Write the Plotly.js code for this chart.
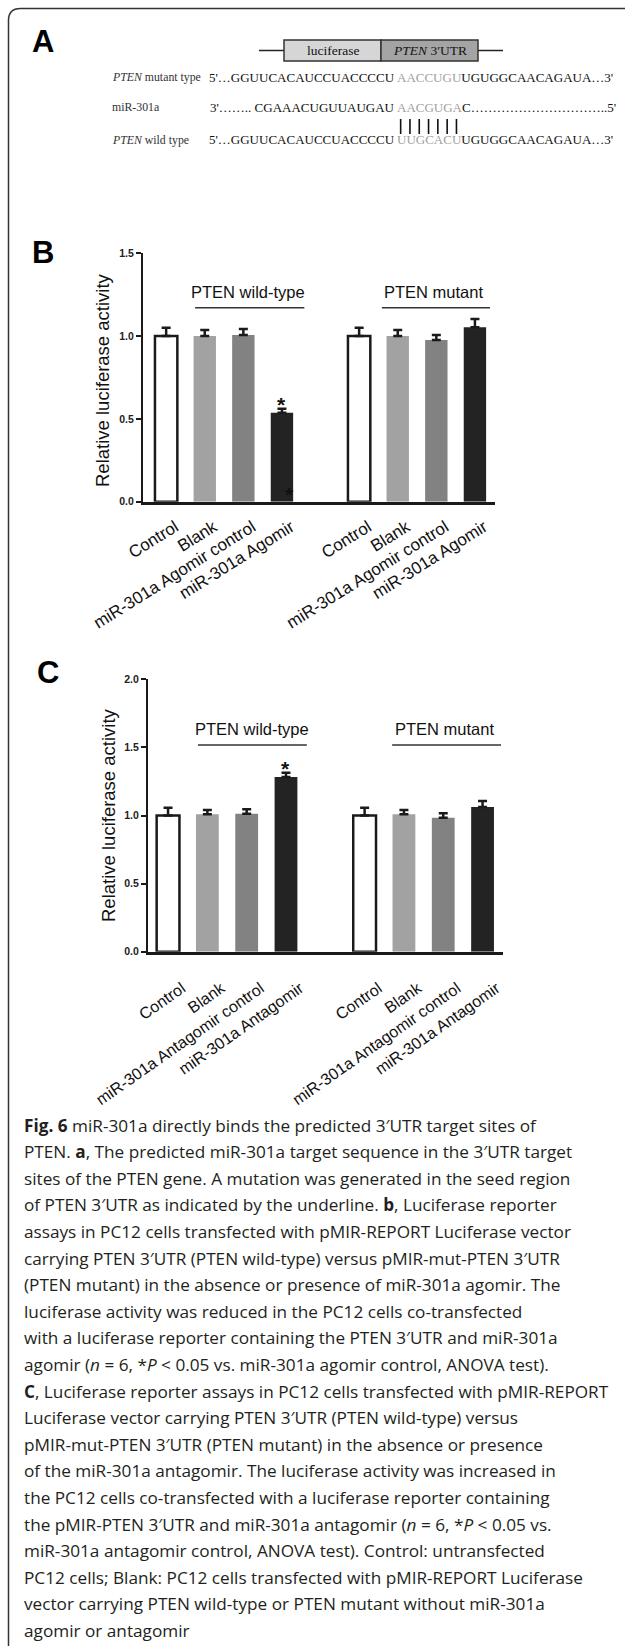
<!DOCTYPE html>
<html>
<head>
<meta charset="utf-8">
<script src="https://cdn.plot.ly/plotly-3.0.1.min.js"></script>
<style>
  html, body { margin: 0; padding: 0; background: #ffffff; }
  #fig { width: 625px; height: 1646px; }
</style>
</head>
<body>
<div id="fig"></div>
<script>
// ---------------- data ----------------
const groupNames = ['PTEN wild-type', 'PTEN mutant'];
const catsB = ['Control', 'Blank', 'miR-301a Agomir control', 'miR-301a Agomir'];
const catsC = ['Control', 'Blank', 'miR-301a Antagomir control', 'miR-301a Antagomir'];

const wildB    = [1.00, 1.00, 1.007, 0.537];
const wildBErr = [0.051, 0.037, 0.036, 0.025];
const mutB     = [1.00, 1.00, 0.976, 1.053];
const mutBErr  = [0.051, 0.037, 0.031, 0.050];

const wildC    = [1.00, 1.009, 1.013, 1.283];
const wildCErr = [0.057, 0.031, 0.032, 0.031];
const mutC     = [1.00, 1.009, 0.984, 1.062];
const mutCErr  = [0.057, 0.031, 0.032, 0.044];

const yTicksB = [0, 0.5, 1.0, 1.5];
const yTicksC = [0, 0.5, 1.0, 1.5, 2.0];

const barColors = ['#ffffff', '#a2a2a2', '#828282', '#232323'];

const seqMutant = ["5'…GGUUCACAUCCUACCCCU", 'AACCUGU', "UGUGGCAACAGAUA…3'"];
const seqMir    = ["3'…….. CGAAACUGUUAUGAU", 'AACGUGA', "C…………………………..5'"];
const seqWild   = ["5'…GGUUCACAUCCUACCCCU", 'UUGCACU', "UGUGGCAACAGAUA…3'"];

const captionLines = [
  '<b>Fig. 6</b> miR-301a directly binds the predicted 3′UTR target sites of',
  'PTEN. <b>a</b>, The predicted miR-301a target sequence in the 3′UTR target',
  'sites of the PTEN gene. A mutation was generated in the seed region',
  'of PTEN 3′UTR as indicated by the underline. <b>b</b>, Luciferase reporter',
  'assays in PC12 cells transfected with pMIR-REPORT Luciferase vector',
  'carrying PTEN 3′UTR (PTEN wild-type) versus pMIR-mut-PTEN 3′UTR',
  '(PTEN mutant) in the absence or presence of miR-301a agomir. The',
  'luciferase activity was reduced in the PC12 cells co-transfected',
  'with a luciferase reporter containing the PTEN 3′UTR and miR-301a',
  'agomir (<i>n</i> = 6, *<i>P</i> < 0.05 vs. miR-301a agomir control, ANOVA test).',
  '<b>C</b>, Luciferase reporter assays in PC12 cells transfected with pMIR-REPORT',
  'Luciferase vector carrying PTEN 3′UTR (PTEN wild-type) versus',
  'pMIR-mut-PTEN 3′UTR (PTEN mutant) in the absence or presence',
  'of the miR-301a antagomir. The luciferase activity was increased in',
  'the PC12 cells co-transfected with a luciferase reporter containing',
  'the pMIR-PTEN 3′UTR and miR-301a antagomir (<i>n</i> = 6, *<i>P</i> < 0.05 vs.',
  'miR-301a antagomir control, ANOVA test). Control: untransfected',
  'PC12 cells; Blank: PC12 cells transfected with pMIR-REPORT Luciferase',
  'vector carrying PTEN wild-type or PTEN mutant without miR-301a',
  'agomir or antagomir'
];

// ---------------- helpers ----------------
const W = 625, H = 1646;
const px = x => x / W;
const py = y => 1 - y / H;
const GAP = 5;               // slot offset of second group
const pos = (g, i) => g * GAP + i;

const SANS = 'Liberation Sans, Arial, sans-serif';
const SERIF = 'Liberation Serif, Times New Roman, serif';
const INK = '#1a1a1a';

function barTrace(wild, wildErr, mut, mutErr, xa, ya) {
  const xs = [], ys = [], es = [], cols = [], lw = [], lc = [];
  [[wild, wildErr], [mut, mutErr]].forEach(([v, e], g) => {
    v.forEach((val, i) => {
      xs.push(pos(g, i)); ys.push(val); es.push(e[i]);
      cols.push(barColors[i]);
      lw.push(i === 0 ? 2.5 : 0);
      lc.push(INK);
    });
  });
  return {
    type: 'bar', x: xs, y: ys, width: 0.58,
    xaxis: xa, yaxis: ya,
    marker: { color: cols, line: { color: lc, width: lw } },
    error_y: { type: 'data', symmetric: false, array: es, arrayminus: es.map(() => 0),
               color: INK, thickness: 2.5, width: 4.5 },
    hoverinfo: 'skip', showlegend: false
  };
}

const traces = [
  barTrace(wildB, wildBErr, mutB, mutBErr, 'x', 'y'),
  barTrace(wildC, wildCErr, mutC, mutCErr, 'x2', 'y2')
];

function xAxis(domain, range, cats, anchor, fsize, angle, shift, standoff) {
  const tv = [], tt = [];
  [0, 1].forEach(g => cats.forEach((c, i) => { tv.push(pos(g, i)); tt.push(c); }));
  return {
    domain, range, anchor, tickmode: 'array', tickvals: tv, ticktext: tt,
    tickangle: angle, ticks: '', showgrid: false, zeroline: false,
    ticklabelshift: shift, ticklabelstandoff: standoff,
    showline: true, linecolor: INK, linewidth: 3,
    tickfont: { family: SANS, size: fsize, color: '#111' }, fixedrange: true
  };
}
function yAxis(domain, range, ticks, anchor) {
  return {
    domain, range, anchor, tickmode: 'array', tickvals: ticks,
    ticktext: ticks.map(t => t.toFixed(1)),
    ticks: 'outside', ticklen: 5, tickwidth: 2, tickcolor: INK,
    showline: true, linecolor: INK, linewidth: 2,
    showgrid: false, zeroline: false,
    tickfont: { family: SANS, size: 10.5, color: '#222', weight: 'bold' }, fixedrange: true
  };
}

// ---------------- shapes ----------------
const shapes = [];
// outer rounded frame (open at right and bottom)
const r = 12, fx = 8.5, fy = 8.5;
shapes.push({
  type: 'path', xref: 'paper', yref: 'paper',
  path: `M ${px(fx)} ${py(H + 10)} L ${px(fx)} ${py(fy + r)} Q ${px(fx)} ${py(fy)} ${px(fx + r)} ${py(fy)} L ${px(W + 10)} ${py(fy)}`,
  line: { color: '#333', width: 1.5 }
});
// panel A construct diagram
const dY = 50.5, dTop = 40, dBot = 61;
const bx0 = 284, bxm = 381, bx1 = 478;
shapes.push({ type: 'line', xref: 'paper', yref: 'paper', x0: px(bx0 - 25), x1: px(bx0), y0: py(dY), y1: py(dY), line: { color: '#222', width: 1.5 } });
shapes.push({ type: 'line', xref: 'paper', yref: 'paper', x0: px(bx1), x1: px(bx1 + 25), y0: py(dY), y1: py(dY), line: { color: '#222', width: 1.5 } });
shapes.push({ type: 'rect', xref: 'paper', yref: 'paper', x0: px(bx0), x1: px(bxm), y0: py(dBot), y1: py(dTop), fillcolor: '#d6d6d6', line: { color: '#333', width: 1.5 } });
shapes.push({ type: 'rect', xref: 'paper', yref: 'paper', x0: px(bxm), x1: px(bx1), y0: py(dBot), y1: py(dTop), fillcolor: '#a4a4a4', line: { color: '#333', width: 1.5 } });
// base-pairing ticks, under the seed letters
const S = 396, charW = 9.3;
for (let k = 0; k < 7; k++) {
  const x = S + charW * (k + 0.5);
  shapes.push({ type: 'line', xref: 'paper', yref: 'paper', x0: px(x), x1: px(x), y0: py(119), y1: py(134), line: { color: '#111', width: 1.6 } });
}
// group underlines
shapes.push({ type: 'line', xref: 'x', yref: 'y', x0: 0.75, x1: 3.58, y0: 1.171, y1: 1.171, line: { color: '#333', width: 1.5 } });
shapes.push({ type: 'line', xref: 'x', yref: 'y', x0: 5.59, x1: 8.39, y0: 1.171, y1: 1.171, line: { color: '#333', width: 1.5 } });
shapes.push({ type: 'line', xref: 'x2', yref: 'y2', x0: 0.76, x1: 3.53, y0: 1.518, y1: 1.518, line: { color: '#333', width: 1.5 } });
shapes.push({ type: 'line', xref: 'x2', yref: 'y2', x0: 5.70, x1: 8.47, y0: 1.518, y1: 1.518, line: { color: '#333', width: 1.5 } });

// ---------------- annotations ----------------
const ann = [];
const pa = (x, y, text, font, opts = {}) => ann.push(Object.assign({
  xref: 'paper', yref: 'paper', x: px(x), y: py(y), text, showarrow: false,
  xanchor: 'center', yanchor: 'middle', font, borderpad: 0
}, opts));

// panel letters
const letterFont = { family: SANS, size: 31, color: '#000', weight: 'bold' };
pa(43, 42, 'A', letterFont);
pa(43, 252, 'B', letterFont);
pa(48, 672, 'C', letterFont);

// panel A text
const seqFont = { family: SERIF, size: 13, color: '#111' };
pa((bx0 + bxm) / 2, dY, 'luciferase', { family: SERIF, size: 13.5, color: '#111' });
pa((bxm + bx1) / 2, dY, '<i>PTEN</i> 3′UTR', { family: SERIF, size: 13.5, color: '#111' });
const rows = [['<i>PTEN</i> mutant type', seqMutant, 77], ['miR-301a', seqMir, 107], ['<i>PTEN</i> wild type', seqWild, 140]];
rows.forEach(([lab, seq, y]) => {
  pa(111, y, lab, { family: SERIF, size: 11.8, color: '#333' }, { xanchor: 'left' });
  pa(S, y, seq[0], seqFont, { xanchor: 'right' });
  pa(S, y, '<span style="color:#a0a0a0">' + seq[1] + '</span>' + seq[2], seqFont, { xanchor: 'left' });
});

// y-axis titles
const yTitleFont = { family: SANS, size: 18.5, color: '#111' };
pa(103, 380, 'Relative luciferase activity', yTitleFont, { textangle: -90 });
pa(108, 815, 'Relative luciferase activity', yTitleFont, { textangle: -90 });

// group labels
const grpFont = { family: SANS, size: 16.5, color: '#111' };
ann.push({ xref: 'x', yref: 'y', x: 2.12, y: 1.268, text: groupNames[0], showarrow: false, font: grpFont });
ann.push({ xref: 'x', yref: 'y', x: 6.92, y: 1.268, text: groupNames[1], showarrow: false, font: grpFont });
ann.push({ xref: 'x2', yref: 'y2', x: 2.13, y: 1.635, text: groupNames[0], showarrow: false, font: grpFont });
ann.push({ xref: 'x2', yref: 'y2', x: 7.02, y: 1.635, text: groupNames[1], showarrow: false, font: grpFont });

// significance asterisks
const starFont = { family: SANS, size: 21, color: '#111', weight: 'bold' };
ann.push({ xref: 'x', yref: 'y', x: pos(0, 3), y: wildB[3] + wildBErr[3], text: '*', showarrow: false, yanchor: 'bottom', yshift: -9, font: starFont });
ann.push({ xref: 'x', yref: 'y', x: pos(0, 3) + 0.2, y: 0.0, text: '*', showarrow: false, yanchor: 'bottom', yshift: -6, font: starFont });
ann.push({ xref: 'x2', yref: 'y2', x: pos(0, 3), y: wildC[3] + wildCErr[3], text: '*', showarrow: false, yanchor: 'bottom', yshift: -9, font: starFont });

// caption
const capFont = { family: 'Open Sans, Noto Sans, sans-serif', size: 17.2, color: '#231f20' };
captionLines.forEach((t, i) => pa(23, 1125 + i * 26.6, t, capFont, { xanchor: 'left' }));

// ---------------- layout ----------------
const layout = {
  width: W, height: H,
  margin: { l: 0, r: 0, t: 0, b: 0 },
  paper_bgcolor: '#ffffff', plot_bgcolor: 'rgba(0,0,0,0)',
  showlegend: false, bargap: 0,
  xaxis: xAxis([px(143), px(495)], [-0.6, 8.52], catsB, 'y', 17, -32, 9, 6),
  yaxis: yAxis([py(501.7), py(253.3)], [0, 1.5], yTicksB, 'x'),
  xaxis2: xAxis([px(148), px(503)], [-0.51, 8.52], catsC, 'y2', 16.2, -35, 14, 18),
  yaxis2: yAxis([py(951.7), py(679.3)], [0, 2.0], yTicksC, 'x2'),
  shapes, annotations: ann
};

Plotly.newPlot('fig', traces, layout, { staticPlot: true, displayModeBar: false });
</script>
</body>
</html>
